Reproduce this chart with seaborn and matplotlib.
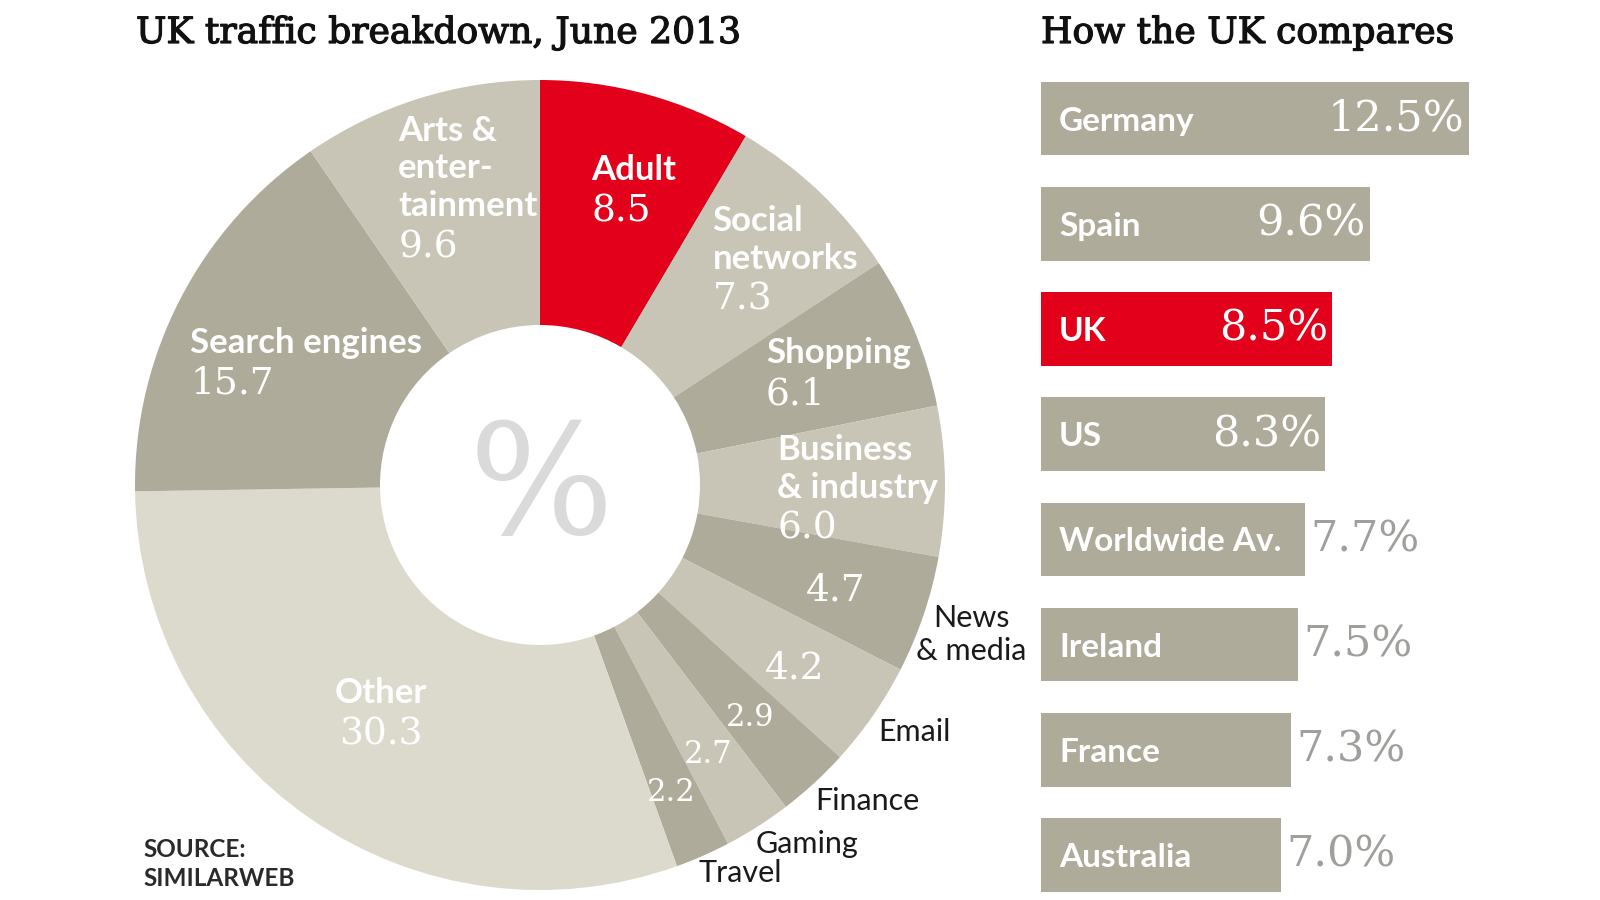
import numpy as np
import pandas as pd
import seaborn as sns
import matplotlib
matplotlib.use("Agg")
import matplotlib.pyplot as plt
import matplotlib.patheffects as pe
from matplotlib.offsetbox import TextArea, VPacker, AnnotationBbox

# ---------------- data ----------------
categories = ["Adult", "Social\nnetworks", "Shopping", "Business\n& industry",
              "News\n& media", "Email", "Finance", "Gaming", "Travel",
              "Other", "Search engines", "Arts &\nenter-\ntainment"]
shares = [8.5, 7.3, 6.1, 6.0, 4.7, 4.2, 2.9, 2.7, 2.2, 30.3, 15.7, 9.6]

countries = ["Germany", "Spain", "UK", "US", "Worldwide Av.", "Ireland", "France", "Australia"]
pcts = [12.5, 9.6, 8.5, 8.3, 7.7, 7.5, 7.3, 7.0]

title_left = "UK traffic breakdown, June 2013"
title_right = "How the UK compares"
source_text = "SOURCE:\nSIMILARWEB"

# ---------------- style ----------------
RED = "#e2001a"
DARK = "#aeab9b"
LIGHT = "#c8c5b7"
LIGHTEST = "#dcdacd"
seg_colors = [RED, LIGHT, DARK, LIGHT, DARK, LIGHT, DARK, LIGHT, DARK, LIGHTEST, DARK, LIGHT]
label_r = [0.76, 0.82, 0.785, 0.785, 0.775, 0.775, 0.775, 0.785, 0.825, 0.69, 0.65, 0.75]
label_dang = [2.5, 4, 2, 1.5, 1, 1, 0.5, 0.5, 0.5, 0, 0, 3.5]
out_r = [0, 0, 0, 0, 1.0, 1.035, 1.035, 1.035, 1.035, 0, 0, 0]
out_dang = [0, 0, 0, 0, 3.0, 1.5, 1.5, 1.5, 1.5, 0, 0, 0]

sns.set_theme(style="white")
SANS = ["Lato", "DejaVu Sans"]
SERIF = ["DejaVu Serif"]
plt.rcParams["font.family"] = SANS

W, H = 1600, 900
fig = plt.figure(figsize=(16, 9), dpi=100)
fig.patch.set_facecolor("white")
ax = fig.add_axes([0, 0, 1, 1])


def Y(py):
    return H - py


CX, CY, R, RIN = 540, Y(485), 405, 160

ax.pie(shares, colors=seg_colors, startangle=90, counterclock=False,
       radius=R, center=(CX, CY), frame=False,
       wedgeprops=dict(width=R - RIN, linewidth=0))
ax.set_xlim(0, W)
ax.set_ylim(0, H)
ax.set_aspect("auto")
ax.axis("off")

NAME = dict(family=SANS, weight="bold", size=25, color="white", linespacing=1.22)
VAL = dict(family=SERIF, size=27, color="white")
OUT = dict(family=SANS, size=22, color="#1a1a1a", linespacing=1.2)

s_arr = np.array(shares)
cum = np.cumsum(s_arr)
mid = 360 * (cum - s_arr / 2) / s_arr.sum()

for i, (name, s) in enumerate(zip(categories, shares)):
    th = np.deg2rad(mid[i] + label_dang[i])
    px = CX + label_r[i] * R * np.sin(th)
    py = CY + label_r[i] * R * np.cos(th)
    val = f"{s:.1f}"
    if s < 5:
        vsize = 27 if s >= 4 else 22
        ax.text(px, py, val, ha="center", va="center", **{**VAL, "size": vsize})
        tho = np.deg2rad(mid[i] + out_dang[i])
        ox = CX + out_r[i] * R * np.sin(tho)
        oy = CY + out_r[i] * R * np.cos(tho)
        ax.text(ox, oy, name, ha="left", va="center", multialignment="center", **OUT)
    else:
        align = "center" if name == "Other" else "left"
        box = VPacker(children=[TextArea(name, textprops={**NAME, "multialignment": align}),
                                TextArea(val, textprops=VAL)],
                      align=align, pad=0, sep=5)
        ab = AnnotationBbox(box, (px, py), frameon=False, box_alignment=(0.5, 0.5), pad=0)
        ax.add_artist(ab)

# big percent sign in the hole
ax.text(CX + 1, Y(492), "%", ha="center", va="center", family=SERIF, size=110, color="#dadada")

# titles and source
thick = [pe.withStroke(linewidth=0.9, foreground="#111111")]
ax.text(136, Y(43), title_left, ha="left", va="baseline", family=SERIF, size=26,
        color="#111111", path_effects=thick)
ax.text(1041, Y(43), title_right, ha="left", va="baseline", family=SERIF, size=26,
        color="#111111", path_effects=thick)
ax.text(143, Y(864), source_text, ha="left", va="center", family=SANS, weight="bold",
        size=17.5, color="#2a2a2a", linespacing=1.35)

# ---------------- bars ----------------
bx0, btop = 1041, 66
bax = fig.add_axes([bx0 / W, 0, (W - bx0) / W, (H - btop) / H])
df = pd.DataFrame({"country": countries, "pct": pcts})
pal = {c: (RED if c == "UK" else DARK) for c in countries}
sns.barplot(data=df, x="pct", y="country", hue="country", palette=pal, saturation=1,
            width=0.7, legend=False, orient="h", linewidth=0, ax=bax)
bax.set_xlim(0, 16.326)
bax.set_ylim(7.428, -0.5)
bax.axis("off")

for i, (c, v) in enumerate(zip(countries, pcts)):
    bax.annotate(c, xy=(0, i), xytext=(13, 0), textcoords="offset points",
                 ha="left", va="center_baseline", family=SANS, weight="bold", size=24, color="white")
    if v >= 8:
        bax.annotate(f"{v:.1f}%", xy=(v, i), xytext=(-3, 0), textcoords="offset points",
                     ha="right", va="center", family=SERIF, size=31, color="white")
    else:
        bax.annotate(f"{v:.1f}%", xy=(v, i), xytext=(4, 0), textcoords="offset points",
                     ha="left", va="center", family=SERIF, size=31, color="#a09f9b")

fig.savefig("out.png", dpi=100, facecolor="white")
